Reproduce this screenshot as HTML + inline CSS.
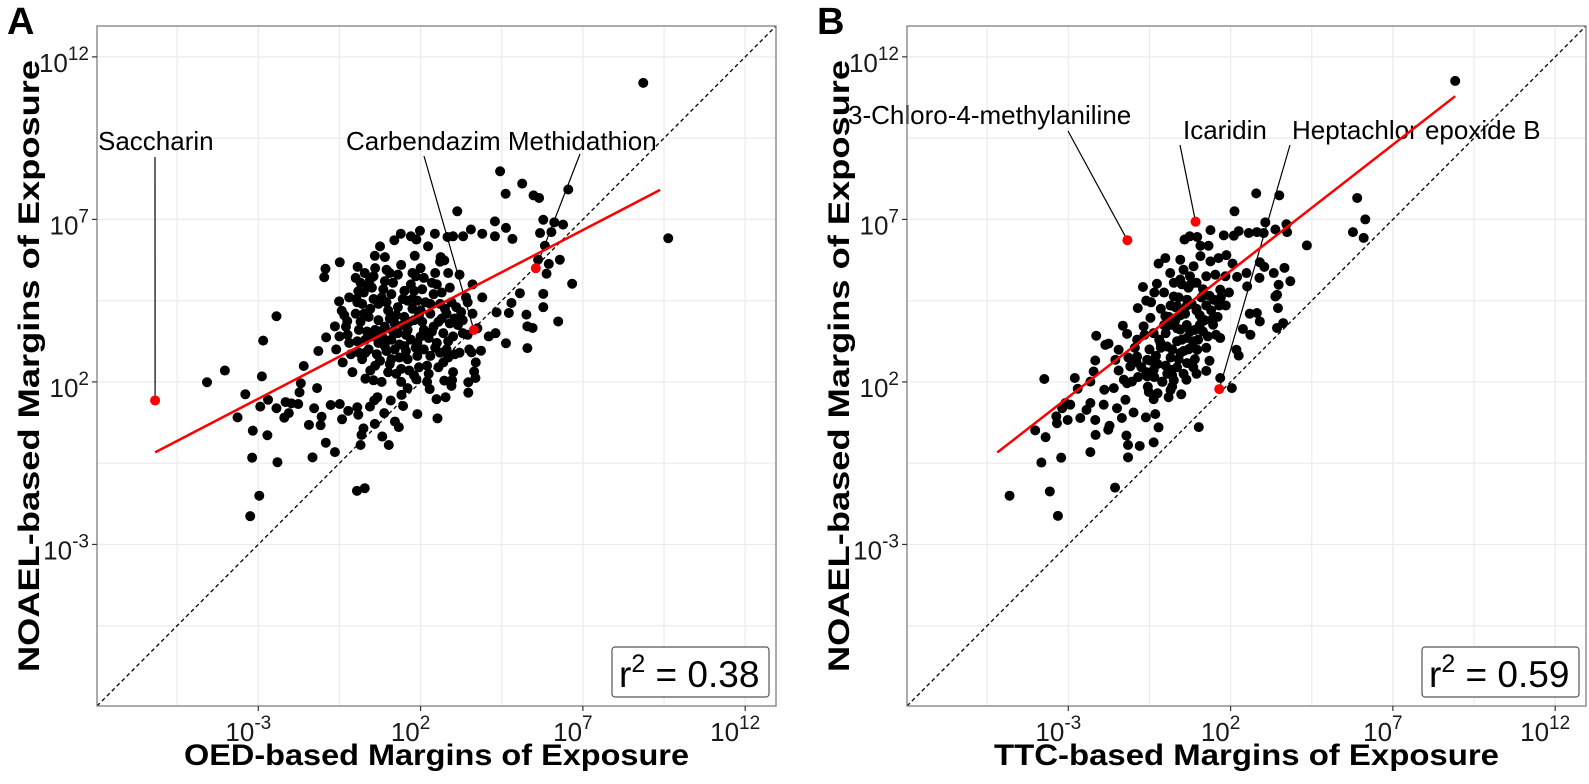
<!DOCTYPE html>
<html><head><meta charset="utf-8"><style>
html,body{margin:0;padding:0;background:#fff;overflow:hidden;width:1589px;height:784px;}
svg{display:block;font-family:"Liberation Sans",Arial,sans-serif;}
</style></head><body>
<svg id="chart" width="1589" height="784" viewBox="0 0 1589 784" xmlns="http://www.w3.org/2000/svg"></svg>
<script>
// ---- data (log10 units) ----
const tickExps = [-3, 2, 7, 12];
const gridMinorExps = [-5.5, -0.5, 4.5, 9.5];
const panelLetters = ['A', 'B'];
const xTitles = ['OED-based Margins of Exposure', 'TTC-based Margins of Exposure'];
const r2Values = ['0.38', '0.59'];
const slopes = [0.519, 0.777];
const intercepts = [3.04, 3.86];
const fitRangeA = [-6.18, 9.38];
const fitRangeB = [-5.19, 8.92];

const pointsA = [[4.45,8.48],[5.13,8.10],[4.62,7.79],[5.48,7.74],[5.65,7.66],[6.55,7.92],[3.13,7.25],[4.29,6.94],[5.78,6.99],[6.12,6.91],[6.39,6.84],[6.03,6.61],[5.68,6.58],[4.63,6.74],[4.83,6.40],[4.29,6.48],[3.90,6.56],[3.55,6.69],[3.31,6.48],[3.00,6.48],[2.83,6.46],[2.44,6.56],[1.98,6.65],[1.70,6.48],[1.87,6.38],[1.39,6.56],[1.19,6.36],[0.75,6.17],[0.59,5.88],[0.90,5.84],[1.82,5.88],[2.23,6.17],[2.62,5.84],[2.73,5.74],[5.83,6.19],[5.62,5.76],[5.95,5.63],[6.29,5.76],[5.88,5.33],[6.67,5.02],[5.78,4.71],[5.78,4.30],[6.24,3.86],[5.26,4.07],[5.29,3.71],[5.45,3.66],[5.29,3.04],[4.63,3.19],[5.06,4.73],[4.80,4.43],[4.72,4.12],[4.34,4.14],[4.31,3.50],[4.10,3.40],[3.86,2.96],[3.57,2.91],[3.65,2.32],[3.69,2.12],[3.47,1.99],[3.47,1.67],[2.97,2.06],[2.95,1.88],[2.73,2.04],[2.77,1.53],[2.49,1.47],[2.52,0.88],[2.28,1.78],[1.90,1.01],[1.87,2.08],[1.60,1.81],[1.41,1.60],[1.46,1.26],[1.21,0.78],[1.33,0.61],[1.02,0.06],[0.82,0.32],[0.88,1.04],[1.08,1.43],[0.67,1.53],[0.57,1.43],[0.59,0.71],[0.44,1.24],[0.24,0.57],[0.18,0.37],[0.15,0.06],[0.08,0.99],[0.05,1.22],[-0.23,1.11],[-0.42,0.85],[-0.49,1.32],[-0.77,1.29],[-0.64,-0.16],[-0.92,0.13],[-1.33,-0.32],[-1.44,0.68],[-1.28,1.19],[-1.05,0.93],[-1.08,0.67],[-1.19,1.81],[-1.69,1.96],[-1.60,2.49],[-1.15,2.95],[-0.91,3.37],[-0.51,4.48],[-0.43,4.19],[-0.26,3.87],[-0.64,3.71],[-0.49,5.68],[-0.93,5.48],[-0.97,5.22],[0.06,5.54],[0.28,5.35],[0.44,5.15],[0.08,4.79],[0.03,4.55],[0.26,4.10],[-2.44,4.02],[-2.85,3.27],[-2.89,2.17],[-4.03,2.35],[-4.58,1.99],[-3.40,1.62],[-3.64,0.91],[-3.17,0.50],[-2.72,0.36],[-3.19,-0.33],[-2.41,-0.47],[-2.97,-1.50],[-3.25,-2.13],[0.04,-1.35],[0.28,-1.27],[-2.70,1.45],[-2.44,1.19],[-2.20,0.90],[-2.06,1.04],[-1.98,1.34],[-1.77,1.32],[-1.73,1.68],[-2.16,1.38],[-2.94,1.24],[8.86,11.2],[9.63,6.42],
[-0.2,3.2],[0.1,3.6],[0.3,2.9],[0.5,3.4],[0.7,3.9],[0.9,3.1],[1.1,2.7],[1.3,3.5],[1.5,4.0],[1.7,3.3],[1.9,2.8],[2.1,3.6],[2.3,4.1],[2.5,3.2],[2.7,2.6],[2.9,3.8],[3.1,4.3],[3.3,3.5],[0.0,4.1],[0.2,4.4],[0.4,3.0],[0.6,2.5],[0.8,4.6],[1.0,4.2],[1.2,3.8],[1.4,2.4],[1.6,4.5],[1.8,4.8],[2.0,4.2],[2.2,2.5],[2.4,4.7],[2.6,4.4],[2.8,3.0],[3.0,2.3],[3.2,2.9],[3.4,4.6],[-0.4,2.6],[-0.1,2.3],[0.3,2.1],[0.6,3.6],[0.9,3.7],[1.2,3.0],[1.5,3.1],[1.8,3.9],[2.1,3.0],[2.4,3.7],[2.7,3.5],[3.0,3.4],[0.5,4.9],[0.9,5.1],[1.3,5.3],[1.7,5.0],[2.1,5.2],[2.5,5.0],[2.9,4.9],[1.1,4.7],[1.5,4.8],[1.9,4.5],[2.3,4.4],[0.7,4.4],[0.4,4.0],[1.0,2.3],[1.4,2.0],[1.8,2.2],[2.2,2.0],[0.8,2.0],[-0.6,3.0],[-0.3,3.7],[0.2,2.7],[1.6,3.6],[2.0,3.4],[1.3,4.3],[0.7,3.2],[2.6,2.9],[3.3,3.9],[3.6,4.1],[3.5,3.0],[3.7,2.6],[1.1,3.3],[1.9,3.2],[2.8,4.1],[0.3,3.3],[1.6,2.7],[2.3,2.8],[0.1,2.9],[-0.5,3.4],[1.4,5.6],[2.0,5.5],[2.6,5.7],[0.6,5.5],[3.2,5.3],[3.6,5.0],[3.9,4.6],[0.0,5.2],[-0.2,4.6],
[0.15,3.85],[0.45,4.25],[0.75,3.55],[1.05,3.95],[1.35,3.15],[1.65,3.85],[1.95,4.05],[2.25,3.35],[2.55,3.85],[2.85,3.25],[3.15,3.75],[0.35,3.55],[0.65,2.85],[0.95,4.45],[1.25,4.05],[1.55,3.45],[1.85,3.05],[2.15,4.45],[2.45,3.05],[2.75,4.25],[3.05,2.85],[0.25,4.75],[0.55,4.55],[0.85,4.85],[1.15,5.05],[1.45,4.55],[1.75,4.25],[2.05,4.85],[2.35,5.05],[2.65,4.75],[2.95,4.45],[3.25,4.15],[0.05,3.25],[-0.15,2.85],[0.45,2.35],[0.75,2.65],[1.05,2.55],[1.35,2.75],[1.65,2.35],[1.95,2.45],[2.25,2.25],[2.55,2.45],[2.85,2.75],[1.25,2.25],[0.55,2.05],[-0.35,4.05],[-0.25,3.45],[0.15,5.05],[0.55,5.25],[0.95,5.45],[1.75,5.35],[2.45,5.35],[2.85,5.35],[3.45,4.45],[3.75,3.65],[3.45,3.45],[3.05,3.95],[0.85,3.35],[1.45,3.75],[2.05,3.85],[1.15,3.55],[1.75,4.55],[2.65,3.95],[0.05,4.45],[0.95,2.95],[1.55,2.95],[2.35,3.55],[1.85,5.25],[1.05,5.35],[0.35,4.95]];

const pointsB = [[2.79,7.80],[3.50,7.74],[2.12,7.25],[3.07,6.91],[3.72,6.85],[1.38,6.67],[1.79,6.51],[2.10,6.50],[2.25,6.64],[2.56,6.58],[2.81,6.61],[3.02,6.58],[3.38,6.69],[3.74,6.61],[0.58,6.38],[0.74,6.48],[0.97,6.46],[1.32,6.19],[1.07,6.19],[4.35,6.20],[5.90,7.66],[6.15,7.00],[5.77,6.61],[6.10,6.43],[1.87,5.90],[1.63,5.81],[2.06,5.64],[2.90,5.68],[3.04,5.54],[3.33,5.35],[3.66,5.51],[3.84,5.10],[3.48,4.99],[2.89,5.20],[2.51,4.94],[2.20,5.23],[2.49,5.35],[3.43,4.68],[3.38,4.63],[3.46,4.27],[2.81,4.12],[2.59,4.10],[2.90,3.86],[3.43,3.66],[3.62,3.81],[2.61,3.45],[2.38,3.63],[1.68,3.35],[2.18,2.99],[2.25,2.81],[1.25,2.34],[1.68,2.12],[2.04,1.81],[0.48,1.62],[0.09,1.53],[-0.22,0.60],[-0.37,0.14],[-0.80,0.03],[-1.16,-0.32],[-1.16,0.06],[-1.21,0.35],[1.02,0.61],[-1.56,-1.25],[-3.32,-2.12],[-3.57,-1.37],[-4.81,-1.50],[-3.83,-0.48],[-3.22,-0.33],[-3.70,0.30],[-4.02,0.51],[-2.32,-0.16],[-2.16,0.37],[-1.77,0.53],[-1.73,0.65],[-2.63,0.89],[-3.02,0.83],[-3.35,0.73],[-3.74,2.09],[-2.80,2.12],[-2.71,1.79],[-2.32,2.01],[-2.14,3.42],[-1.86,3.14],[-1.76,3.18],[-1.55,2.68],[-1.45,2.99],[-1.32,3.73],[-1.19,3.48],[-2.17,2.66],[-2.22,2.32],[-0.70,4.92],[-0.86,4.27],[-0.60,4.50],[-0.22,5.64],[-0.01,5.81],[0.45,5.76],[-0.27,5.02],[-1.35,0.89],[-0.99,1.06],[-0.61,0.91],[-0.32,1.01],[-0.52,1.69],[-0.37,1.47],[-1.24,1.45],[-1.50,1.19],[-1.91,1.30],[-2.32,1.35],[-2.44,1.14],[-3.19,1.19],[-3.37,0.94],[-3.09,1.35],[-2.94,1.30],[-2.17,0.83],[-1.89,1.76],[-1.60,1.81],[-1.29,2.07],[-1.04,2.01],[-0.11,2.01],[0.20,1.86],[0.64,2.07],[0.66,2.58],[0.16,2.37],[0.97,2.99],[0.76,3.04],[1.46,3.76],[1.12,3.86],[0.95,4.20],[1.48,4.53],[1.68,4.84],[1.84,5.25],[1.53,5.30],[1.38,5.71],[1.07,5.87],[0.86,5.56],[0.14,5.35],[0.45,5.15],[0.76,4.99],[0.25,4.63],[-0.01,4.02],[0.35,4.33],[0.66,4.53],[-0.47,3.97],[-0.68,3.71],[-0.88,3.30],[-0.37,3.50],[-0.16,3.20],[0.45,3.61],[0.04,3.09],[0.45,2.89],[-0.57,2.68],[-0.37,2.37],[-0.88,2.78],[-1.09,2.48],[-1.19,1.96],[-0.57,2.17],[8.92,11.26],
[0.0,3.5],[0.3,3.9],[0.6,4.1],[0.9,3.6],[1.2,3.9],[0.2,3.0],[0.5,3.3],[0.8,4.4],[1.1,4.6],[-0.3,2.8],[0.0,2.5],[0.4,2.7],[0.7,3.0],[1.0,3.3],[-0.5,3.0],[-0.2,3.3],[0.1,4.0],[0.4,4.6],[0.7,4.9],[1.4,4.2],[1.6,4.0],[1.3,3.4],[-0.6,2.3],[-0.9,2.6],[0.9,2.7],[0.2,2.2],[-0.1,2.0],[1.7,4.6],[0.5,5.0],[0.3,4.3],
[0.15,3.75],[0.45,4.05],[0.75,3.55],[1.05,4.05],[0.35,3.25],[0.65,3.75],[0.95,4.25],[1.25,4.35],[-0.15,3.05],[0.15,2.75],[0.55,2.95],[0.85,3.25],[1.15,3.55],[-0.45,2.65],[-0.75,2.45],[-0.35,2.15],[0.05,2.25],[0.35,2.45],[0.55,2.25],[0.85,2.45],[1.25,3.05],[1.55,3.45],[1.45,3.95],[1.85,4.35],[1.95,4.75],[0.25,5.05],[0.55,5.45],[0.95,5.05],[1.25,5.25],[-0.45,4.45],[-0.15,4.25],[-0.35,4.75],[0.15,4.35],[0.65,4.35],[-0.65,3.45],[-0.95,3.05],[-1.15,2.75],[-0.85,2.15],[-1.45,2.35],[-0.05,3.75],[0.35,3.65],[0.65,3.35],[1.05,3.75],[1.35,4.65],[1.65,4.35],[-0.25,2.55],[0.25,2.05],[0.95,2.25],[1.35,2.65],[-0.55,1.85],[-0.25,1.65],[0.15,1.75],[0.75,5.25],[-0.05,4.75],[1.15,4.85]];

const highlightNamesA = ['Saccharin', 'Carbendazim', 'Methidathion'];
const highlightA = [[-6.18,1.43],[3.64,3.60],[5.55,5.50]];
const highlightNamesB = ['3-Chloro-4-methylaniline', 'Icaridin', 'Heptachlor epoxide B'];
const highlightB = [[-1.18,6.36],[0.92,6.93],[1.65,1.78]];

// ---- layout ----
const DOM = [-7.97, 12.95];
const panels = [
  {x0: 97, x1: 776, y0: 26, y1: 706, pts: pointsA, hl: highlightA, fit: fitRangeA},
  {x0: 907, x1: 1586, y0: 26, y1: 706, pts: pointsB, hl: highlightB, fit: fitRangeB}
];
const NS = 'http://www.w3.org/2000/svg';
const svg = document.getElementById('chart');
function mk(tag, attrs, parent, text) {
  const e = document.createElementNS(NS, tag);
  for (const k in attrs) e.setAttribute(k, attrs[k]);
  if (text !== undefined) e.textContent = text;
  (parent || svg).appendChild(e);
  return e;
}

const labelsA = [
  {t: 'Saccharin', x: 98, y: 150, lx: 155, ly: 157},
  {t: 'Carbendazim Methidathion', x: 346, y: 150, lx: 424, ly: 156, lx2: 580, ly2: 154}
];
const labelsB = [
  {t: '3-Chloro-4-methylaniline', x: 848, y: 124, lx: 1068, ly: 131},
  {t: 'Icaridin', x: 1183, y: 139, lx: 1180, ly: 145},
  {t: 'Heptachlor epoxide B', x: 1292, y: 139, lx: 1290, ly: 145}
];
const labelSets = [labelsA, labelsB];

panels.forEach((p, pi) => {
  const sx = v => p.x0 + (v - DOM[0]) / (DOM[1] - DOM[0]) * (p.x1 - p.x0);
  const sy = v => p.y1 - (v - DOM[0]) / (DOM[1] - DOM[0]) * (p.y1 - p.y0);
  const g = mk('g', {});
  
  
  mk('rect', {x: p.x0, y: p.y0, width: p.x1 - p.x0, height: p.y1 - p.y0, fill: '#fff'}, g);
  const grid = mk('g', {stroke: '#ebebeb', 'stroke-width': 1.2}, g);
  
  
  gridMinorExps.concat(tickExps).forEach(v => {
    mk('line', {x1: sx(v), x2: sx(v), y1: p.y0, y2: p.y1}, grid);
    mk('line', {x1: p.x0, x2: p.x1, y1: sy(v), y2: sy(v)}, grid);
  });
  const idl = mk('line', {x1: sx(DOM[0]), y1: sy(DOM[0]), x2: sx(DOM[1]), y2: sy(DOM[1]), stroke: '#000', 'stroke-width': 1.3, 'stroke-dasharray': '4,3'}, g);
  
  
  const pg = mk('g', {fill: '#000'}, g);
  
  
  p.pts.forEach(d => {
    const c = mk('circle', {cx: sx(d[0]), cy: sy(d[1]), r: 5}, pg);
    
    
  });
  const labs = labelSets[pi];
  labs.forEach(L => {
    const t = mk('text', {x: L.x, y: L.y, 'font-size': 26, fill: '#000'}, g, L.t);
    
    
  });
  const hlLines = pi === 0
    ? [[labs[0].lx, labs[0].ly, 0], [labs[1].lx, labs[1].ly, 1], [labs[1].lx2, labs[1].ly2, 2]]
    : [[labs[0].lx, labs[0].ly, 0], [labs[1].lx, labs[1].ly, 1], [labs[2].lx, labs[2].ly, 2]];
  hlLines.forEach(h => {
    const d = p.hl[h[2]];
    const ln = mk('line', {x1: h[0], y1: h[1], x2: sx(d[0]), y2: sy(d[1]), stroke: '#000', 'stroke-width': 1.2}, g);
    
    
  });
  const f0 = p.fit[0], f1 = p.fit[1];
  const fl = mk('line', {x1: sx(f0), y1: sy(intercepts[pi] + slopes[pi] * f0), x2: sx(f1), y2: sy(intercepts[pi] + slopes[pi] * f1), stroke: '#ff0000', 'stroke-width': 2.5}, g);
  
  
  p.hl.forEach(d => {
    const c = mk('circle', {cx: sx(d[0]), cy: sy(d[1]), r: 5, fill: '#ff0000'}, g);
    
    
  });
  mk('rect', {x: p.x0, y: p.y0, width: p.x1 - p.x0, height: p.y1 - p.y0, fill: 'none', stroke: '#7f7f7f', 'stroke-width': 1.3}, g);
  tickExps.forEach(v => {
    mk('line', {x1: sx(v), x2: sx(v), y1: p.y1, y2: p.y1 + 5, stroke: '#333', 'stroke-width': 1.2}, g);
    mk('line', {x1: p.x0 - 5, x2: p.x0, y1: sy(v), y2: sy(v), stroke: '#333', 'stroke-width': 1.2}, g);
    const xt = mk('text', {x: sx(v) - 10, y: 741, 'font-size': 26, 'text-anchor': 'middle', fill: '#1a1a1a'}, g);
    
    
    mk('tspan', {}, xt, '10');
    mk('tspan', {'font-size': 19, dy: -12}, xt, String(v));
    const yt = mk('text', {x: p.x0 - 8, y: sy(v) + 15, 'font-size': 26, 'text-anchor': 'end', fill: '#1a1a1a'}, g);
    
    
    mk('tspan', {}, yt, '10');
    mk('tspan', {'font-size': 19, dy: -12}, yt, String(v));
  });
  const cx = (p.x0 + p.x1) / 2;
  const xtT = mk('text', {x: cx, y: 765, 'font-size': 30, 'font-weight': 'bold', 'text-anchor': 'middle', textLength: 505, lengthAdjust: 'spacingAndGlyphs'}, g, xTitles[pi]);
  
  
  const ycx = p.x0 - 58, ycy = 366;
  const ytT = mk('text', {x: ycx, y: ycy, 'font-size': 30, 'font-weight': 'bold', 'text-anchor': 'middle', transform: 'rotate(-90 ' + ycx + ' ' + ycy + ')', textLength: 612, lengthAdjust: 'spacingAndGlyphs'}, g, 'NOAEL-based Margins of Exposure');
  
  
  const pl = mk('text', {x: p.x0 - 90, y: 34, 'font-size': 38, 'font-weight': 'bold'}, g, panelLetters[pi]);
  
  
  const bx = p.x1 - 164, by = 647;
  const box = mk('rect', {x: bx, y: by, width: 157, height: 50, rx: 3, fill: '#fff', stroke: '#555', 'stroke-width': 1.2}, g);
  
  
  const rt = mk('text', {x: bx + 7, y: by + 40, 'font-size': 37, fill: '#000'}, g);
  
  
  mk('tspan', {}, rt, 'r');
  mk('tspan', {'font-size': 25, dy: -15}, rt, '2');
  mk('tspan', {dy: 15}, rt, ' = ' + r2Values[pi]);
});
</script>
</body></html>
